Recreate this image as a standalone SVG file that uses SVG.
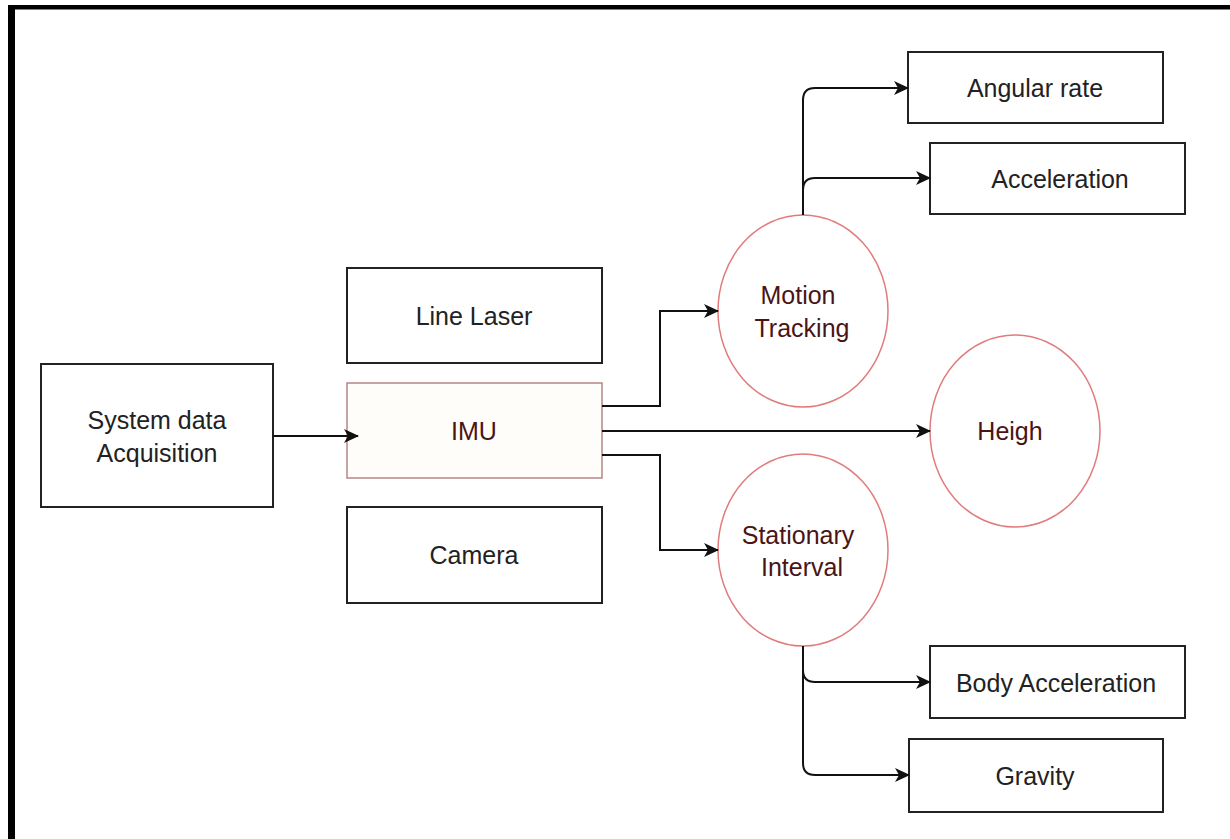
<svg xmlns="http://www.w3.org/2000/svg" width="1230" height="839" viewBox="0 0 1230 839">
<style>
.box{fill:#fff;stroke:#222;stroke-width:2}
.imu{fill:#fffdf9;stroke:#b58585;stroke-width:1.5}
.circ{fill:#fff;stroke:#e07c7c;stroke-width:1.5}
.t{font-family:"Liberation Sans",Arial,sans-serif;font-size:25px;fill:#222;text-anchor:middle}
.r{fill:#4a1414}
.c{fill:none;stroke:#111;stroke-width:2}
</style>
<defs>
<marker id="ah" markerWidth="16" markerHeight="16" refX="14" refY="8" orient="auto" markerUnits="userSpaceOnUse">
<path d="M0,1 L15,8 L0,15 L4,8 Z" fill="#111"/>
</marker>
</defs>
<rect x="0" y="0" width="1230" height="839" fill="#fff"/>
<rect x="8" y="5" width="1222" height="4.5" fill="#000"/>
<rect x="8" y="5" width="7" height="834" fill="#000"/>

<g id="sys"><rect class="box" x="41" y="364" width="232" height="143"/><text class="t" x="157" y="429">System data</text><text class="t" x="157" y="462">Acquisition</text></g>
<g id="laser"><rect class="box" x="347" y="268" width="255" height="95"/><text class="t" x="474" y="325">Line Laser</text></g>
<g id="imu"><rect class="imu" x="347" y="383" width="255" height="95"/><text class="t r" x="474" y="440">IMU</text></g>
<g id="camera"><rect class="box" x="347" y="507" width="255" height="96"/><text class="t" x="474" y="564">Camera</text></g>
<g id="motion"><ellipse class="circ" cx="803" cy="311" rx="85" ry="96"/><text class="t r" x="798" y="304">Motion</text><text class="t r" x="802" y="337">Tracking</text></g>
<g id="heigh"><ellipse class="circ" cx="1015" cy="431" rx="85" ry="96"/><text class="t r" x="1010" y="440">Heigh</text></g>
<g id="stationary"><ellipse class="circ" cx="803" cy="550" rx="85" ry="96"/><text class="t r" x="798" y="544">Stationary</text><text class="t r" x="802" y="576">Interval</text></g>
<g id="angular"><rect class="box" x="908" y="52" width="255" height="71"/><text class="t" x="1035" y="97">Angular rate</text></g>
<g id="accel"><rect class="box" x="930" y="143" width="255" height="71"/><text class="t" x="1060" y="188">Acceleration</text></g>
<g id="body"><rect class="box" x="930" y="646" width="255" height="72"/><text class="t" x="1056" y="692">Body Acceleration</text></g>
<g id="gravity"><rect class="box" x="909" y="739" width="254" height="73"/><text class="t" x="1035" y="785">Gravity</text></g>

<g id="connectors">
<path class="c" d="M273,436 H358" marker-end="url(#ah)"/>
<path class="c" d="M602,406 H660 V311 H718" marker-end="url(#ah)"/>
<path class="c" d="M602,431 H930" marker-end="url(#ah)"/>
<path class="c" d="M602,455 H660 V550 H718" marker-end="url(#ah)"/>
<path class="c" d="M803,215 V100 Q803,88 815,88 H908" marker-end="url(#ah)"/>
<path class="c" d="M803,190 Q803,178 815,178 H930" marker-end="url(#ah)"/>
<path class="c" d="M803,646 V670 Q803,682 815,682 H930" marker-end="url(#ah)"/>
<path class="c" d="M803,670 V763 Q803,775 815,775 H909" marker-end="url(#ah)"/>
</g>
</svg>
